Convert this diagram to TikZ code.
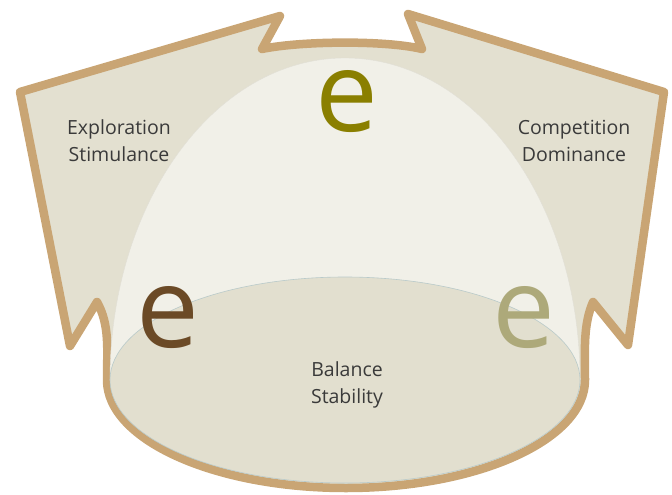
\documentclass[tikz,border=0pt]{standalone}
\usepackage{fontspec}
\setmainfont{Open Sans}
\usetikzlibrary{positioning}
\definecolor{rim}{HTML}{C9A574}
\definecolor{wing}{HTML}{E3E0D0}
\definecolor{dome}{HTML}{F1F0E8}
\definecolor{basin}{HTML}{E2DFCF}
\definecolor{basinedge}{HTML}{B9CACA}
\definecolor{labeltxt}{HTML}{3A3A3A}
\definecolor{eolive}{HTML}{8A7F00}
\definecolor{ebrown}{HTML}{6B4A26}
\definecolor{ekhaki}{HTML}{ADA97A}
\tikzset{
    rimline/.style={draw=rim, line width=8.5pt, line join=round, fill=wing},
    zone/.style={text=labeltxt, font=\fontsize{19.5}{27}\selectfont, align=center},
    bigE/.style={font=\fontsize{112}{112}\selectfont, inner sep=0pt}
}

\begin{document}
\begin{tikzpicture}[x=1pt,y=-1pt]
\useasboundingbox (0,0) rectangle (672,495);

% outline with the two wings
\draw[rimline] (593,302) .. controls (583,325) and (585,350) .. (585,380)
    arc[start angle=0, end angle=180, x radius=239, y radius=108]
    .. controls (107,350) and (110,325) .. (97,302)
    -- (70,346) -- (20,92) -- (280,16) -- (262,49)
    .. controls (300,41) and (385,40) .. (422,49)
    -- (408,14) -- (664,92) -- (628,345) -- cycle;

% dome and basin
\fill[dome, draw=wing!90!black!60, line width=0.4pt] (110,380)
    arc[start angle=180, end angle=360, x radius=235, y radius=322] -- cycle;
\draw[fill=basin, draw=basinedge, line width=0.6pt] (345,380) ellipse[x radius=235, y radius=103];

\node[zone] (expl) at (119,141) {Exploration\\Stimulance};
\node[zone] (comp) at (574,141) {Competition\\Dominance};
\node[zone] (bal) at (347,385) {Balance\\Stability};

\node[bigE, text=eolive] (eTop) at (347,102) {e};
\node[bigE, text=ebrown] (eLeft) at (168,318) {e};
\node[bigE, text=ekhaki] (eRight) at (524,318) {e};
\end{tikzpicture}
\end{document}
